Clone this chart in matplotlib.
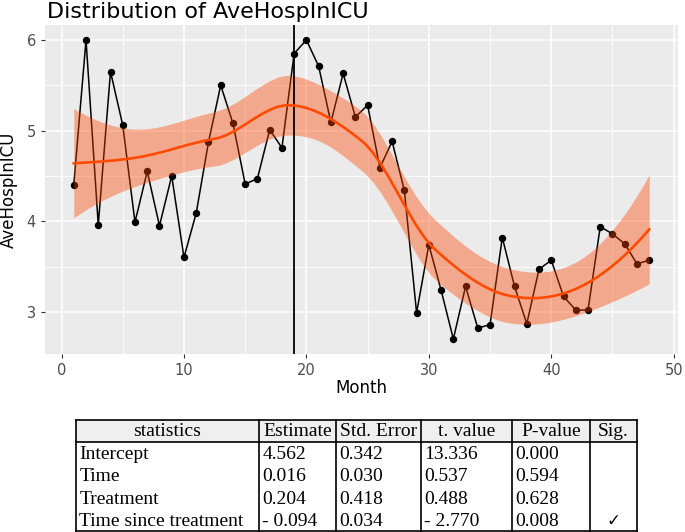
import numpy as np
import matplotlib
matplotlib.use("Agg")
import matplotlib.pyplot as plt
from matplotlib.patches import Rectangle

# ---------------- data ----------------
months = np.arange(1, 49)
ave_hosp_icu = np.array([
    4.40, 6.00, 3.96, 5.65, 5.06, 3.99, 4.55, 3.95, 4.50, 3.60,
    4.09, 4.87, 5.50, 5.08, 4.41, 4.47, 5.01, 4.81, 5.85, 6.00,
    5.71, 5.09, 5.63, 5.15, 5.28, 4.59, 4.88, 4.34, 2.99, 3.74,
    3.24, 2.70, 3.28, 2.82, 2.86, 3.82, 3.28, 2.87, 3.47, 3.57,
    3.17, 3.02, 3.02, 3.94, 3.86, 3.75, 3.53, 3.57])
intervention_month = 19

title_text = "Distribution of AveHospInICU"
x_label = "Month"
y_label = "AveHospInICU"
x_ticks = [0, 10, 20, 30, 40, 50]
x_minor = [5, 15, 25, 35, 45]
y_ticks = [3, 4, 5, 6]
y_minor = [3.5, 4.5, 5.5]

table_header = ["statistics", "Estimate", "Std. Error", "t. value", "P-value", "Sig."]
table_rows = [
    ["Intercept", "4.562", "0.342", "13.336", "0.000", ""],
    ["Time", "0.016", "0.030", "0.537", "0.594", ""],
    ["Treatment", "0.204", "0.418", "0.488", "0.628", ""],
    ["Time since treatment", "- 0.094", "0.034", "- 2.770", "0.008", "\u2713"],
]


# ---------------- loess (R default: span .75, degree 2, kd-tree interpolation) ----------------
def local_rows(x, x0, span=0.75):
    n = len(x)
    q = int(np.floor(n * span))
    d = np.abs(x - x0)
    h = np.sort(d)[q - 1]
    u = d / h
    w = np.where(u < 1, (1 - u ** 3) ** 3, 0.0)
    X = np.column_stack([np.ones(n), x - x0, (x - x0) ** 2])
    XtW = X.T * w
    B = np.linalg.solve(XtW @ X, XtW)
    return B[0], B[1]


def kd_vertices(x, span=0.75, cell=0.2):
    xsrt = np.sort(x)
    n = len(x)
    fc = int(np.floor(n * span * cell))
    margin = 0.005 * (xsrt[-1] - xsrt[0])
    verts = {xsrt[0] - margin, xsrt[-1] + margin}

    def split(l, u):
        if u - l + 1 <= fc:
            return
        m = (l + u) // 2
        verts.add((xsrt[m] + xsrt[m + 1]) / 2)
        split(l, m)
        split(m + 1, u)

    split(0, n - 1)
    return np.array(sorted(verts))


def loess_operator(x, xeval):
    verts = kd_vertices(x)
    Lv, Dv = zip(*[local_rows(x, v) for v in verts])
    Lv, Dv = np.array(Lv), np.array(Dv)
    out = np.zeros((len(xeval), len(x)))
    for i, xe in enumerate(xeval):
        k = min(max(np.searchsorted(verts, xe) - 1, 0), len(verts) - 2)
        hk = verts[k + 1] - verts[k]
        t = (xe - verts[k]) / hk
        h00 = 2 * t ** 3 - 3 * t ** 2 + 1
        h10 = t ** 3 - 2 * t ** 2 + t
        h01 = -2 * t ** 3 + 3 * t ** 2
        h11 = t ** 3 - t ** 2
        out[i] = h00 * Lv[k] + h10 * hk * Dv[k] + h01 * Lv[k + 1] + h11 * hk * Dv[k + 1]
    return out


def t975(df):
    z = 1.959964
    g1 = (z ** 3 + z) / 4
    g2 = (5 * z ** 5 + 16 * z ** 3 + 3 * z) / 96
    g3 = (3 * z ** 7 + 19 * z ** 5 + 17 * z ** 3 - 15 * z) / 384
    return z + g1 / df + g2 / df ** 2 + g3 / df ** 3


xf = months.astype(float)
Lh = loess_operator(xf, xf)
res = ave_hosp_icu - Lh @ ave_hosp_icu
IL = np.eye(len(xf)) - Lh
M = IL.T @ IL
d1 = np.trace(M)
d2 = np.trace(M @ M)
sigma = np.sqrt(np.sum(res ** 2) / d1)
xs = np.linspace(xf.min(), xf.max(), 80)
Le = loess_operator(xf, xs)
fit = Le @ ave_hosp_icu
se = sigma * np.sqrt(np.sum(Le ** 2, axis=1))
tq = t975(d1 ** 2 / d2)
rib_lo = fit - tq * se
rib_hi = fit + tq * se

# ---------------- figure ----------------
W, H = 685, 532
fig = plt.figure(figsize=(W / 100, H / 100), dpi=100)
fig.patch.set_facecolor("white")


def fx(px):
    return px / W


def fy(py):
    return 1 - py / H


ax = fig.add_axes([fx(45), fy(354), fx(678) - fx(45), fy(25) - fy(354)])
ax.set_facecolor("#EBEBEB")
for s in ax.spines.values():
    s.set_visible(False)

ax.set_xticks(x_ticks)
ax.set_xticks(x_minor, minor=True)
ax.set_yticks(y_ticks)
ax.set_yticks(y_minor, minor=True)
ax.grid(which="major", color="white", lw=1.1)
ax.grid(which="minor", color="white", lw=0.6)
ax.set_axisbelow(True)
ax.tick_params(which="minor", length=0)
ax.tick_params(which="major", length=3, width=0.8, color="#333333",
               labelcolor="#4D4D4D", labelsize=10.5, pad=3.5)

ax.plot(months, ave_hosp_icu, color="black", lw=1.1, zorder=2)
ax.plot(months, ave_hosp_icu, "o", color="black", ms=4.3, zorder=3)
ax.fill_between(xs, rib_lo, rib_hi, color="#FF4500", alpha=0.4, lw=0, zorder=4)
ax.axvline(intervention_month, color="black", lw=1.3, zorder=5)
ax.plot(xs, fit, color="#FF4A00", lw=1.9, zorder=6)

xr = xf.max() - xf.min()
ax.set_xlim(xf.min() - 0.05 * xr, xf.max() + 0.05 * xr)
ylo = min(ave_hosp_icu.min(), rib_lo.min())
yhi = max(ave_hosp_icu.max(), rib_hi.max())
yr = yhi - ylo
ax.set_ylim(ylo - 0.05 * yr, yhi + 0.05 * yr)

fig.text(fx(47), fy(18), title_text, fontsize=16, ha="left", va="baseline", color="black")
fig.text(fx(361.5), fy(393), x_label, fontsize=12, ha="center", va="baseline", color="black")
fig.text(fx(9), fy(189.5), y_label, fontsize=12, ha="center", va="center",
         rotation=90, color="black")

# ---------------- table ----------------
tax = fig.add_axes([0, 0, 1, 1])
tax.set_xlim(0, W)
tax.set_ylim(H, 0)
tax.axis("off")

col_edges = [76, 259, 336, 421, 512, 590, 637]
row_top = 420
row_h = 22.2
n_rows = len(table_rows) + 1
bottom = row_top + row_h * n_rows
serif = ["Liberation Serif", "DejaVu Serif", "DejaVu Sans"]
tfs = 14

tax.add_patch(Rectangle((col_edges[0], row_top), col_edges[-1] - col_edges[0], row_h,
                        facecolor="#EFEFEF", edgecolor="none", zorder=1))
lw = 1.2
tax.plot([col_edges[0], col_edges[-1]], [row_top, row_top], color="black", lw=lw, zorder=3)
tax.plot([col_edges[0], col_edges[-1]], [row_top + row_h, row_top + row_h], color="black", lw=lw, zorder=3)
tax.plot([col_edges[0], col_edges[-1]], [bottom, bottom], color="black", lw=lw, zorder=3)
for xe in col_edges:
    tax.plot([xe, xe], [row_top, bottom], color="black", lw=lw, zorder=3)

for j, h in enumerate(table_header):
    cx = (col_edges[j] + col_edges[j + 1]) / 2
    tax.text(cx, row_top + 16.5, h, family=serif, fontsize=tfs, ha="center",
             va="baseline", color="black", zorder=4)

for i, row in enumerate(table_rows):
    yb = row_top + row_h * (i + 1) + 17
    for j, val in enumerate(row):
        if not val:
            continue
        if j == len(row) - 1:
            cx = (col_edges[j] + col_edges[j + 1]) / 2
            tax.text(cx, yb, val, family=["DejaVu Sans"], fontsize=12, ha="center",
                     va="baseline", color="black", zorder=4)
        else:
            tax.text(col_edges[j] + 3.5, yb, val, family=serif, fontsize=tfs, ha="left",
                     va="baseline", color="black", zorder=4)

fig.savefig("out.png", dpi=100)
